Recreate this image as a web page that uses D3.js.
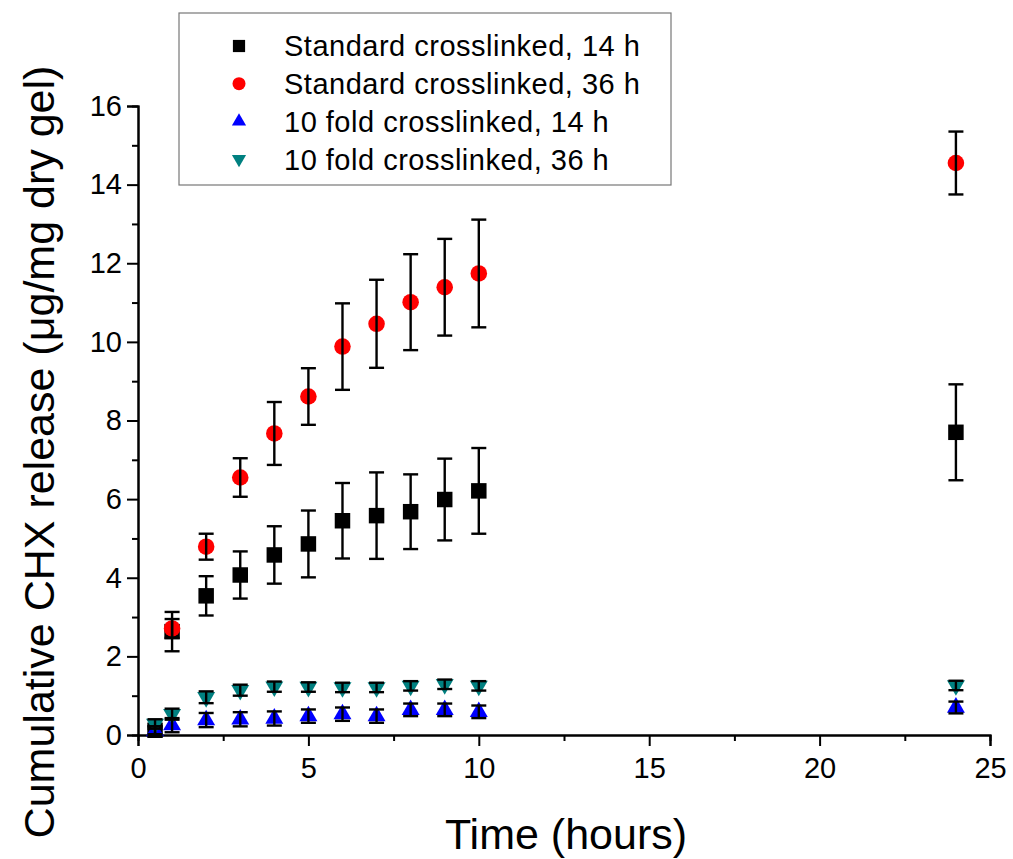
<!DOCTYPE html>
<html>
<head>
<meta charset="UTF-8" />
<title>CHX release</title>
<script src="https://d3js.org/d3.v7.min.js"></script>
<style>
  body { margin: 0; background: #fff; }
  text { font-family: "Liberation Sans", Arial, sans-serif; }
</style>
</head>
<body>
<div id="main"></div>
<script type="text/javascript">

// time points (hours)
var times = [0.5, 1, 2, 3, 4, 5, 6, 7, 8, 9, 10, 24];
var timesStd36 = [1, 2, 3, 4, 5, 6, 7, 8, 9, 10, 24];

// Standard crosslinked, 14 h
var std14 = [0.12, 2.63, 3.54, 4.07, 4.58, 4.86, 5.45, 5.58, 5.68, 5.99, 6.21, 7.70];
var std14err = [0.1, 0.5, 0.5, 0.6, 0.73, 0.85, 0.96, 1.1, 0.95, 1.04, 1.09, 1.22];

// Standard crosslinked, 36 h
var std36 = [2.71, 4.79, 6.55, 7.67, 8.61, 9.88, 10.46, 11.01, 11.39, 11.74, 14.55];
var std36err = [0.24, 0.33, 0.49, 0.8, 0.72, 1.1, 1.12, 1.22, 1.23, 1.37, 0.8];

// 10 fold crosslinked, 14 h
var fold14 = [0.10, 0.25, 0.38, 0.40, 0.42, 0.48, 0.53, 0.48, 0.64, 0.64, 0.59, 0.70];
var fold14err = [0.12, 0.18, 0.18, 0.18, 0.18, 0.17, 0.17, 0.17, 0.16, 0.16, 0.16, 0.15];

// 10 fold crosslinked, 36 h
var fold36 = [0.28, 0.53, 0.96, 1.14, 1.23, 1.22, 1.21, 1.21, 1.25, 1.29, 1.25, 1.26];
var fold36err = [0.12, 0.14, 0.15, 0.14, 0.13, 0.12, 0.12, 0.12, 0.12, 0.12, 0.12, 0.12];

var legendLabels = ["Standard crosslinked, 14 h", "Standard crosslinked, 36 h",
                    "10 fold crosslinked, 14 h", "10 fold crosslinked, 36 h"];

var width = 1013, height = 859;

var svg = d3.select("#main").append("svg")
    .attr("width", width)
    .attr("height", height);

var x = d3.scaleLinear().domain([0, 25]).range([138, 990]);
var y = d3.scaleLinear().domain([0, 16]).range([735, 106]);

var series = [
  {xs: times, ys: std14, err: std14err, shape: d3.symbolSquare, size: 240, color: "#000000", label: legendLabels[0]},
  {xs: timesStd36, ys: std36, err: std36err, shape: d3.symbolCircle, size: 215, color: "#ff0000", label: legendLabels[1]},
  {xs: times, ys: fold14, err: fold14err, shape: d3.symbolTriangle, size: 140, color: "#0000ff", label: legendLabels[2]},
  {xs: times, ys: fold36, err: fold36err, shape: d3.symbolTriangle, size: 140, color: "#008080", label: legendLabels[3], flip: true}
];

// axes
var xMajor = d3.axisBottom(x).tickValues(d3.range(0, 26, 5)).tickSize(11).tickFormat(d3.format("d"));
var xMinor = d3.axisBottom(x).tickValues(d3.range(2.5, 25, 5)).tickSize(6).tickFormat("");
var yMajor = d3.axisLeft(y).tickValues(d3.range(0, 17, 2)).tickSize(11).tickFormat(d3.format("d"));
var yMinor = d3.axisLeft(y).tickValues(d3.range(1, 16, 2)).tickSize(6).tickFormat("");

function styleAxis(g) {
  g.select(".domain").attr("stroke", "#000").attr("stroke-width", 2);
  g.selectAll(".tick line").attr("stroke", "#000").attr("stroke-width", 2);
  g.selectAll(".tick text").attr("fill", "#000").style("font-size", "29px");
}

var gx = svg.append("g").attr("transform", "translate(0,735)").call(xMajor).call(styleAxis);
gx.selectAll(".tick text").attr("dy", "1.0em");
svg.append("g").attr("transform", "translate(0,735)").call(xMinor).call(styleAxis);

var gy = svg.append("g").attr("transform", "translate(138,0)").call(yMajor).call(styleAxis);
gy.selectAll(".tick text").attr("x", -16);
svg.append("g").attr("transform", "translate(138,0)").call(yMinor).call(styleAxis);

// axis titles
svg.append("text")
  .attr("x", 566).attr("y", 849)
  .attr("text-anchor", "middle")
  .style("font-size", "43px")
  .text("Time (hours)");

svg.append("text")
  .attr("transform", "translate(54,452) rotate(-90)")
  .attr("text-anchor", "middle")
  .style("font-size", "43px")
  .text("Cumulative CHX release (\u03bcg/mg dry gel)");

// markers
var plot = svg.append("g");
series.forEach(function(s) {
  var pts = s.xs.map(function(t, i) { return {t: t, v: s.ys[i], e: s.err[i]}; });
  plot.append("g").selectAll("path")
    .data(pts)
    .enter().append("path")
    .attr("d", d3.symbol().type(s.shape).size(s.size))
    .attr("transform", function(d) {
      return "translate(" + x(d.t) + "," + y(d.v) + ")" + (s.flip ? " rotate(180)" : "");
    })
    .attr("fill", s.color);
});

// error bars on top
series.forEach(function(s) {
  var pts = s.xs.map(function(t, i) { return {t: t, v: s.ys[i], e: s.err[i]}; });
  var eb = plot.append("g").attr("stroke", "#000").attr("stroke-width", 2.4);
  eb.selectAll("line.v").data(pts).enter().append("line")
    .attr("x1", function(d) { return x(d.t); }).attr("x2", function(d) { return x(d.t); })
    .attr("y1", function(d) { return y(d.v + d.e); }).attr("y2", function(d) { return y(d.v - d.e); });
  eb.selectAll("line.top").data(pts).enter().append("line")
    .attr("x1", function(d) { return x(d.t) - 7.5; }).attr("x2", function(d) { return x(d.t) + 7.5; })
    .attr("y1", function(d) { return y(d.v + d.e); }).attr("y2", function(d) { return y(d.v + d.e); });
  eb.selectAll("line.bot").data(pts).enter().append("line")
    .attr("x1", function(d) { return x(d.t) - 7.5; }).attr("x2", function(d) { return x(d.t) + 7.5; })
    .attr("y1", function(d) { return y(d.v - d.e); }).attr("y2", function(d) { return y(d.v - d.e); });
});

// legend
var legend = svg.append("g");
legend.append("rect")
  .attr("x", 179).attr("y", 13).attr("width", 492).attr("height", 172)
  .attr("fill", "#fff").attr("stroke", "#777").attr("stroke-width", 1.2);

var rows = legend.selectAll("g.row").data(series).enter().append("g")
  .attr("transform", function(d, i) { return "translate(0," + (46 + i * 37.7) + ")"; });
rows.append("path")
  .attr("d", function(d) { return d3.symbol().type(d.shape).size(d.size * 0.62)(); })
  .attr("transform", function(d) { return "translate(239,0)" + (d.flip ? " rotate(180)" : ""); })
  .attr("fill", function(d) { return d.color; });
rows.append("text")
  .attr("x", 284).attr("dy", "0.36em")
  .style("font-size", "29px")
  .style("letter-spacing", "0.5px")
  .text(function(d) { return d.label; });

</script>
</body>
</html>
